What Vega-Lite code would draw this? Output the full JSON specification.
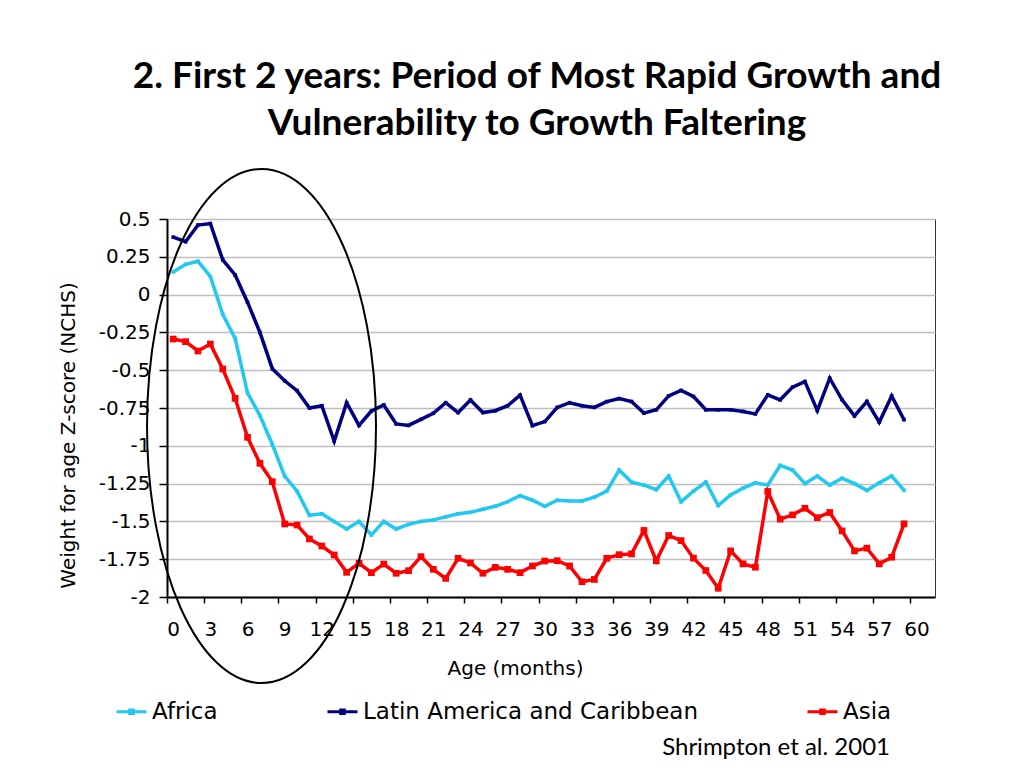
{
  "$schema": "https://vega.github.io/schema/vega-lite/v6.json",
  "width": 768,
  "height": 378,
  "autosize": {"type": "none"},
  "padding": {"left": 167, "top": 219, "right": 89, "bottom": 171},
  "background": "white",
  "title": {
    "text": ["2. First 2 years: Period of Most Rapid Growth and", "Vulnerability to Growth Faltering"],
    "font": "Lato",
    "fontSize": 37,
    "fontWeight": "bold",
    "color": "black",
    "anchor": "middle",
    "frame": "group",
    "dx": -14,
    "lineHeight": 47,
    "offset": 22
  },
  "config": {
    "view": {"stroke": "#333333", "strokeWidth": 1},
    "axis": {
      "labelFont": "DejaVu Sans",
      "labelFontSize": 20,
      "labelColor": "black",
      "titleFont": "DejaVu Sans",
      "titleFontSize": 20,
      "titleFontWeight": "normal",
      "titleColor": "black",
      "domainColor": "black",
      "domainWidth": 2,
      "tickColor": "black",
      "tickWidth": 1.5
    },
    "legend": {
      "labelFont": "DejaVu Sans",
      "labelFontSize": 23,
      "labelColor": "black",
      "labelLimit": 500
    }
  },
  "datasets": {
    "growth": [
      {"month": 0, "Africa": 0.15, "Latin America and Caribbean": 0.38, "Asia": -0.294},
      {"month": 1, "Africa": 0.2, "Latin America and Caribbean": 0.35, "Asia": -0.311},
      {"month": 2, "Africa": 0.22, "Latin America and Caribbean": 0.46, "Asia": -0.373},
      {"month": 3, "Africa": 0.12, "Latin America and Caribbean": 0.47, "Asia": -0.327},
      {"month": 4, "Africa": -0.13, "Latin America and Caribbean": 0.23, "Asia": -0.492},
      {"month": 5, "Africa": -0.29, "Latin America and Caribbean": 0.13, "Asia": -0.686},
      {"month": 6, "Africa": -0.65, "Latin America and Caribbean": -0.05, "Asia": -0.944},
      {"month": 7, "Africa": -0.8, "Latin America and Caribbean": -0.25, "Asia": -1.116},
      {"month": 8, "Africa": -0.99, "Latin America and Caribbean": -0.49, "Asia": -1.237},
      {"month": 9, "Africa": -1.2, "Latin America and Caribbean": -0.57, "Asia": -1.517},
      {"month": 10, "Africa": -1.3, "Latin America and Caribbean": -0.635, "Asia": -1.524},
      {"month": 11, "Africa": -1.46, "Latin America and Caribbean": -0.75, "Asia": -1.616},
      {"month": 12, "Africa": -1.45, "Latin America and Caribbean": -0.735, "Asia": -1.663},
      {"month": 13, "Africa": -1.5, "Latin America and Caribbean": -0.97, "Asia": -1.722},
      {"month": 14, "Africa": -1.55, "Latin America and Caribbean": -0.715, "Asia": -1.837},
      {"month": 15, "Africa": -1.5, "Latin America and Caribbean": -0.865, "Asia": -1.777},
      {"month": 16, "Africa": -1.59, "Latin America and Caribbean": -0.77, "Asia": -1.839},
      {"month": 17, "Africa": -1.5, "Latin America and Caribbean": -0.73, "Asia": -1.782},
      {"month": 18, "Africa": -1.55, "Latin America and Caribbean": -0.855, "Asia": -1.843},
      {"month": 19, "Africa": -1.52, "Latin America and Caribbean": -0.865, "Asia": -1.826},
      {"month": 20, "Africa": -1.5, "Latin America and Caribbean": -0.825, "Asia": -1.733},
      {"month": 21, "Africa": -1.49, "Latin America and Caribbean": -0.785, "Asia": -1.817},
      {"month": 22, "Africa": -1.47, "Latin America and Caribbean": -0.715, "Asia": -1.877},
      {"month": 23, "Africa": -1.45, "Latin America and Caribbean": -0.78, "Asia": -1.744},
      {"month": 24, "Africa": -1.44, "Latin America and Caribbean": -0.697, "Asia": -1.775},
      {"month": 25, "Africa": -1.42, "Latin America and Caribbean": -0.78, "Asia": -1.843},
      {"month": 26, "Africa": -1.4, "Latin America and Caribbean": -0.768, "Asia": -1.804},
      {"month": 27, "Africa": -1.37, "Latin America and Caribbean": -0.735, "Asia": -1.817},
      {"month": 28, "Africa": -1.33, "Latin America and Caribbean": -0.665, "Asia": -1.839},
      {"month": 29, "Africa": -1.36, "Latin America and Caribbean": -0.867, "Asia": -1.795},
      {"month": 30, "Africa": -1.4, "Latin America and Caribbean": -0.84, "Asia": -1.762},
      {"month": 31, "Africa": -1.36, "Latin America and Caribbean": -0.746, "Asia": -1.76},
      {"month": 32, "Africa": -1.365, "Latin America and Caribbean": -0.715, "Asia": -1.795},
      {"month": 33, "Africa": -1.365, "Latin America and Caribbean": -0.735, "Asia": -1.899},
      {"month": 34, "Africa": -1.34, "Latin America and Caribbean": -0.746, "Asia": -1.884},
      {"month": 35, "Africa": -1.3, "Latin America and Caribbean": -0.708, "Asia": -1.744},
      {"month": 36, "Africa": -1.16, "Latin America and Caribbean": -0.688, "Asia": -1.72},
      {"month": 37, "Africa": -1.24, "Latin America and Caribbean": -0.707, "Asia": -1.715},
      {"month": 38, "Africa": -1.26, "Latin America and Caribbean": -0.784, "Asia": -1.56},
      {"month": 39, "Africa": -1.29, "Latin America and Caribbean": -0.762, "Asia": -1.761},
      {"month": 40, "Africa": -1.2, "Latin America and Caribbean": -0.67, "Asia": -1.593},
      {"month": 41, "Africa": -1.37, "Latin America and Caribbean": -0.634, "Asia": -1.627},
      {"month": 42, "Africa": -1.3, "Latin America and Caribbean": -0.674, "Asia": -1.743},
      {"month": 43, "Africa": -1.24, "Latin America and Caribbean": -0.762, "Asia": -1.825},
      {"month": 44, "Africa": -1.395, "Latin America and Caribbean": -0.762, "Asia": -1.942},
      {"month": 45, "Africa": -1.325, "Latin America and Caribbean": -0.762, "Asia": -1.695},
      {"month": 46, "Africa": -1.28, "Latin America and Caribbean": -0.773, "Asia": -1.781},
      {"month": 47, "Africa": -1.245, "Latin America and Caribbean": -0.789, "Asia": -1.803},
      {"month": 48, "Africa": -1.26, "Latin America and Caribbean": -0.663, "Asia": -1.302},
      {"month": 49, "Africa": -1.13, "Latin America and Caribbean": -0.696, "Asia": -1.485},
      {"month": 50, "Africa": -1.16, "Latin America and Caribbean": -0.612, "Asia": -1.457},
      {"month": 51, "Africa": -1.25, "Latin America and Caribbean": -0.575, "Asia": -1.413},
      {"month": 52, "Africa": -1.2, "Latin America and Caribbean": -0.767, "Asia": -1.475},
      {"month": 53, "Africa": -1.26, "Latin America and Caribbean": -0.553, "Asia": -1.441},
      {"month": 54, "Africa": -1.215, "Latin America and Caribbean": -0.696, "Asia": -1.563},
      {"month": 55, "Africa": -1.25, "Latin America and Caribbean": -0.802, "Asia": -1.695},
      {"month": 56, "Africa": -1.295, "Latin America and Caribbean": -0.707, "Asia": -1.677},
      {"month": 57, "Africa": -1.245, "Latin America and Caribbean": -0.844, "Asia": -1.781},
      {"month": 58, "Africa": -1.2, "Latin America and Caribbean": -0.67, "Asia": -1.737},
      {"month": 59, "Africa": -1.295, "Latin America and Caribbean": -0.828, "Asia": -1.516}
    ],
    "ellipse": [
      {"month": 7.13, "z": -0.869}
    ],
    "source": [
      {"month": 57.87, "z": -3.045, "label": "Shrimpton et al. 2001"}
    ]
  },
  "encoding": {
    "x": {
      "field": "month",
      "type": "quantitative",
      "scale": {"domain": [-0.5, 61.5], "nice": false, "zero": false},
      "axis": {
        "title": "Age (months)",
        "values": [0, 3, 6, 9, 12, 15, 18, 21, 24, 27, 30, 33, 36, 39, 42, 45, 48, 51, 54, 57, 60],
        "tickOffset": -6.19,
        "labelOffset": 6.19,
        "tickSize": 6,
        "labelPadding": 16,
        "labelFlush": false,
        "labelOverlap": false,
        "grid": false,
        "titleX": 348,
        "titleY": 71,
        "titleBaseline": "middle",
        "titleAnchor": "start",
        "titleAlign": "center"
      }
    },
    "y": {
      "field": "z",
      "type": "quantitative",
      "scale": {"domain": [-2, 0.5], "nice": false, "zero": false},
      "axis": {
        "title": "Weight for age Z-score (NCHS)",
        "values": [0.5, 0.25, 0, -0.25, -0.5, -0.75, -1, -1.25, -1.5, -1.75, -2],
        "labelExpr": "toString(datum.value)",
        "tickSize": 8,
        "labelPadding": 9,
        "grid": true,
        "gridColor": "#BFBFBF",
        "gridWidth": 1.5,
        "titleX": -99,
        "titleY": 216,
        "titleAngle": -90,
        "titleBaseline": "middle",
        "titleAlign": "center",
        "titleAnchor": "start"
      }
    }
  },
  "layer": [
    {
      "data": {"name": "growth"},
      "transform": [{"fold": ["Africa", "Latin America and Caribbean", "Asia"], "as": ["region", "z"]}],
      "mark": {"type": "line", "strokeWidth": 3.5},
      "encoding": {
        "color": {
          "field": "region",
          "type": "nominal",
          "scale": {"domain": ["Africa", "Latin America and Caribbean", "Asia"], "range": ["#22C8F0", "#000080", "#FF0000"]},
          "legend": {
            "title": null,
            "orient": "none",
            "direction": "horizontal",
            "columns": 3,
            "legendX": -52,
            "legendY": 476,
            "padding": 0,
            "symbolType": "M-1,0 L1,0 M-0.12,-0.12 L0.12,-0.12 L0.12,0.12 L-0.12,0.12 Z",
            "symbolSize": 900,
            "symbolStrokeWidth": 3,
            "labelOffset": 4,
            "columnPadding": 103
          }
        }
      }
    },
    {
      "data": {"name": "growth"},
      "transform": [
        {"fold": ["Africa", "Latin America and Caribbean", "Asia"], "as": ["region", "z"]},
        {"filter": "datum.region !== 'Asia'"}
      ],
      "mark": {"type": "point", "shape": "square", "filled": true, "opacity": 1, "size": 13},
      "encoding": {
        "color": {"field": "region", "type": "nominal", "legend": null}
      }
    },
    {
      "data": {"name": "growth"},
      "transform": [
        {"fold": ["Africa", "Latin America and Caribbean", "Asia"], "as": ["region", "z"]},
        {"filter": "datum.region === 'Asia'"}
      ],
      "mark": {"type": "point", "shape": "square", "filled": true, "opacity": 1, "size": 45},
      "encoding": {
        "color": {"field": "region", "type": "nominal", "legend": null}
      }
    },
    {
      "data": {"name": "ellipse"},
      "mark": {
        "type": "point",
        "shape": "M0,-1 A0.4455,1 0 1,1 0,1 A0.4455,1 0 1,1 0,-1 Z",
        "size": 264196,
        "filled": false,
        "stroke": "black",
        "strokeWidth": 2,
        "opacity": 1
      }
    },
    {
      "data": {"name": "source"},
      "mark": {"type": "text", "align": "right", "baseline": "alphabetic", "font": "Lato", "fontSize": 24, "color": "black"},
      "encoding": {"text": {"field": "label"}}
    }
  ]
}
